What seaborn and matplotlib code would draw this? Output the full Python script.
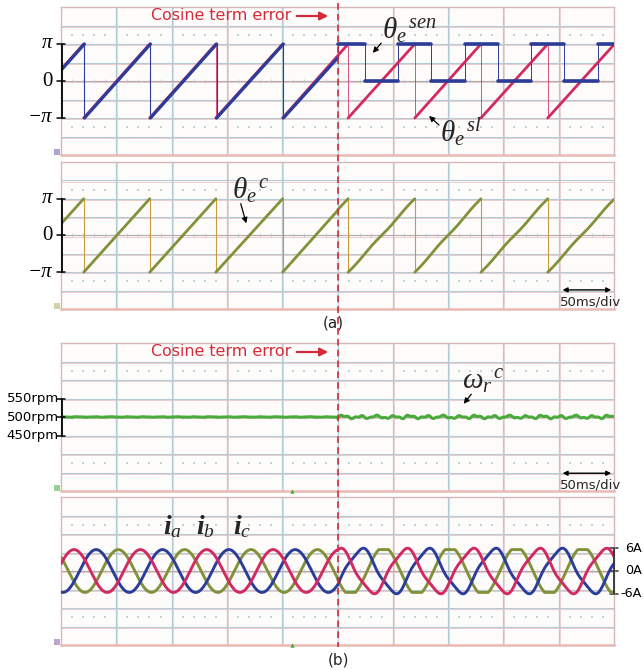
import numpy as np
import pandas as pd
import matplotlib
matplotlib.use("Agg")
import matplotlib.pyplot as plt
import matplotlib.transforms as mtransforms
from matplotlib.lines import Line2D
from matplotlib.patches import FancyArrowPatch
import seaborn as sns

sns.set_theme(style="white")
plt.rcParams['font.family'] = ['DejaVu Sans']
plt.rcParams['mathtext.fontset'] = 'custom'
plt.rcParams['mathtext.rm'] = 'Liberation Serif'
plt.rcParams['mathtext.it'] = 'Liberation Serif:italic'
plt.rcParams['mathtext.bf'] = 'Liberation Serif:italic:bold'

PI = np.pi

# ---------------- data ----------------
window_ms = [0.0, 500.0]
fault_ms = 250.0
# sawtooth resets (angle drops from +pi to -pi), ms
wrap_ms = [20.5, 80.2, 140.0, 200.4, 259.6, 319.9, 379.7, 440.1]
sen_lag_ms = 0.7
# sensed angle after the cosine-term error: edges and levels
sen_edges_ms = [250.0, 274.6, 304.6, 334.9, 364.9, 394.7, 424.7, 455.1, 485.1, 500.0]
sen_levels = [PI, 0.0, PI, 0.0, PI, 0.0, PI, 0.0, PI]
comp_ripple_rad = 0.05
angle_ticks = [-PI, 0.0, PI]
angle_tick_labels = ["\u2212\u03c0", "0", "\u03c0"]
angle_tick_styles = ["italic", "normal", "italic"]

speed_ref_rpm = 500.0
speed_ticks = [450, 500, 550]
speed_ripple_rpm = [0.5, 3.0]          # before / after the error
speed_tick_labels = ["450rpm", "500rpm", "550rpm"]

current_peak_A = 5.6
elec_period_ms = 60.0
ia_peak_ms = 11.75
phase_lag_ms = {"ia": 0.0, "ib": 20.0, "ic": 40.0}
current_ticks = [-6, 0, 6]
current_tick_labels = ["-6A", "0A", "6A"]

# ---------------- colours ----------------
C_RED = "#d12a63"
C_BLUE = "#2b3d98"
C_OLIVE = "#82913a"
C_GREEN = "#4aab3c"
C_MARK = "#d42a3a"
C_GRID_B = "#b3cbd4"
C_GRID_P = "#efcdcd"

W, H = 644, 671
fig = plt.figure(figsize=(W / 100, H / 100), dpi=100)
fig.patch.set_facecolor("white")


def rect(x0, y0, x1, y1):
    return [x0 / W, 1 - y1 / H, (x1 - x0) / W, (y1 - y0) / H]


def P(x, y):
    return x / W, 1 - y / H


def scope_axes(r, ylo, yhi):
    ax = fig.add_axes(r)
    ax.set_facecolor("#fefcfa")
    ax.set_xticks([]); ax.set_yticks([])
    for s in ax.spines.values():
        s.set_color("#d6b8b8"); s.set_linewidth(1.0)
    ax.spines["bottom"].set_color("#e9b9b5"); ax.spines["bottom"].set_linewidth(1.8)
    div_y = (yhi - ylo) / 8
    px_y = (yhi - ylo) / 148
    for i in range(1, 10):
        ax.axvline(i * 50, color=C_GRID_B, lw=0.9, zorder=0.5)
        ax.axvline(i * 50 + 0.9, color=C_GRID_P, lw=0.6, zorder=0.4)
    for j in range(1, 8):
        y = ylo + j * div_y
        ax.axhline(y, color="#b3a8ac" if j == 4 else C_GRID_B, lw=0.8, zorder=0.5)
        ax.axhline(y - px_y * 1.2, color=C_GRID_P, lw=0.7, zorder=0.4)
    minor = [k * 10 for k in range(1, 50) if k % 5]
    for j in (1.5, 6.5):
        ax.scatter(minor, [ylo + j * div_y] * len(minor), s=2.5, marker="s",
                   color="#bfd2da", linewidths=0, zorder=0.6)
    ax.scatter(minor, [ylo + 4 * div_y] * len(minor), s=6, marker="|",
               color="#b6c8d0", linewidths=0.6, zorder=0.6)
    ax.set_xlim(*window_ms)
    ax.set_ylim(ylo, yhi)
    return ax


def ramps(wraps, t0, t1, n=160):
    edges = [t0] + list(wraps) + [t1]
    rows = []
    for k in range(len(edges) - 1):
        a, b = edges[k], edges[k + 1]
        if k == 0:
            per = wraps[1] - wraps[0]
            ya, yb = PI - (b - a) / per * 2 * PI, PI
        elif k == len(edges) - 2:
            per = wraps[-1] - wraps[-2]
            ya, yb = -PI, -PI + (b - a) / per * 2 * PI
        else:
            ya, yb = -PI, PI
        tt = np.linspace(a, b, n)
        yy = np.linspace(ya, yb, n)
        rows.append(pd.DataFrame({"t": tt, "v": yy, "seg": k}))
    return pd.concat(rows, ignore_index=True)


def seg_plot(ax, df, color, lw):
    sns.lineplot(data=df, x="t", y="v", units="seg", estimator=None, sort=False,
                 color=color, lw=lw, ax=ax, legend=False, zorder=3)
    ax.set_xlabel(""); ax.set_ylabel("")


def left_scale(ax, values, labels, fs, family, styles=None, dx_text=-0.016):
    tr = mtransforms.blended_transform_factory(ax.transAxes, ax.transData)
    ax.plot([0.001, 0.001], [min(values), max(values)], color="black", lw=1.3,
            transform=tr, clip_on=False, zorder=6)
    styles = styles or ["normal"] * len(values)
    for v, lab, st in zip(values, labels, styles):
        ax.plot([-0.007, 0.008], [v, v], color="black", lw=1.1, transform=tr,
                clip_on=False, zorder=6)
        ax.text(dx_text, v, lab, transform=tr, ha="right", va="center",
                fontsize=fs, family=family, style=st, color="black")


# ---------------- (a) angles ----------------
ax1 = scope_axes(rect(61, 7, 614, 155), -2 * PI, 2 * PI)
sl = ramps(wrap_ms, *window_ms)
seg_plot(ax1, sl, C_RED, 2.0)
ax1.vlines(wrap_ms, -PI, PI, color=C_RED, lw=0.7, alpha=0.8, zorder=2)

pre_wraps = [w + sen_lag_ms for w in wrap_ms if w < fault_ms]
sen_pre = ramps(pre_wraps, window_ms[0], fault_ms)
seg_plot(ax1, sen_pre, C_BLUE, 2.3)
ax1.vlines(pre_wraps, -PI, PI, color=C_BLUE, lw=0.8, zorder=2)
sq = pd.concat([pd.DataFrame({"t": [a, b], "v": [lv, lv], "seg": i})
                for i, (a, b, lv) in enumerate(zip(sen_edges_ms[:-1], sen_edges_ms[1:], sen_levels))],
               ignore_index=True)
seg_plot(ax1, sq, C_BLUE, 2.6)
ax1.vlines(sen_edges_ms[1:-1], 0, PI, color=C_BLUE, lw=0.7, zorder=2)
ax1.vlines([fault_ms], sen_pre["v"].iloc[-1], PI, color=C_BLUE, lw=0.7, zorder=2)
ax1.set_xlim(*window_ms); ax1.set_ylim(-2 * PI, 2 * PI)
left_scale(ax1, angle_ticks, angle_tick_labels, 15, "Liberation Serif", styles=angle_tick_styles)

ax2 = scope_axes(rect(61, 162, 614, 309), -2 * PI, 2 * PI)
cc = ramps(wrap_ms, *window_ms)
cc["v"] = cc["v"] - np.where(cc["t"] >= fault_ms, comp_ripple_rad * np.sin(2 * cc["v"]), 0.0)
seg_plot(ax2, cc, C_OLIVE, 2.0)
ax2.vlines(wrap_ms, -PI, PI, color="#c79a3a", lw=0.8, zorder=2)
ax2.set_xlim(*window_ms); ax2.set_ylim(-2 * PI, 2 * PI)
left_scale(ax2, angle_ticks, angle_tick_labels, 15, "Liberation Serif", styles=angle_tick_styles)

# ---------------- (b) speed and currents ----------------
ax3 = scope_axes(rect(61, 343, 614, 491), speed_ref_rpm - 200, speed_ref_rpm + 200)
t = np.arange(0, 500.25, 0.25)
e = 2 * PI * (t - ia_peak_ms) / elec_period_ms
amp = np.where(t >= fault_ms, speed_ripple_rpm[1], speed_ripple_rpm[0])
spd = speed_ref_rpm + amp * (np.sin(4 * e) + 0.6 * np.sin(9 * e + 0.7) + 0.5 * np.sin(2 * e + 1.3) ** 9)
sdf = pd.DataFrame({"t": t, "v": spd, "seg": 0})
seg_plot(ax3, sdf, C_GREEN, 2.2)
ax3.set_xlim(*window_ms); ax3.set_ylim(speed_ref_rpm - 200, speed_ref_rpm + 200)
left_scale(ax3, speed_ticks, speed_tick_labels, 9.5, "DejaVu Sans", dx_text=-0.004)

IMAX = 6 * 4 / 1.24
ax4 = scope_axes(rect(61, 497, 614, 645), -IMAX, IMAX)
rows = []
for name, lag in phase_lag_ms.items():
    ph = 2 * PI * (t - ia_peak_ms - lag) / elec_period_ms
    base = np.cos(ph)
    if name == "ic":
        dist = np.clip(1.12 * np.cos(ph), -1, 1)
    else:
        dist = np.cos(ph) + 0.1 * np.sin(3 * ph + 0.4)
    i = current_peak_A * np.where(t >= fault_ms, dist, base)
    rows.append(pd.DataFrame({"t": t, "i": i, "phase": name}))
cdf = pd.concat(rows, ignore_index=True)
sns.lineplot(data=cdf, x="t", y="i", hue="phase", hue_order=["ic", "ib", "ia"],
             palette={"ia": C_RED, "ib": C_BLUE, "ic": C_OLIVE}, estimator=None,
             sort=False, lw=2.1, ax=ax4, legend=False, zorder=3)
ax4.set_xlabel(""); ax4.set_ylabel("")
ax4.set_xlim(*window_ms); ax4.set_ylim(-IMAX, IMAX)
tr4 = mtransforms.blended_transform_factory(ax4.transAxes, ax4.transData)
ax4.plot([1.0, 1.0], [-6, 6], color="#333333", lw=1.3, transform=tr4, clip_on=False, zorder=6)
for v, lab in zip(current_ticks, current_tick_labels):
    ax4.plot([0.992, 1.008], [v, v], color="#333333", lw=1.1, transform=tr4, clip_on=False)
    ax4.text(1.021 if v >= 0 else 1.011, v, lab, transform=tr4, ha="left", va="center",
             fontsize=9.2, color="black")

# channel markers and trigger marks
for ax, col in ((ax1, "#6a5aa8"), (ax2, "#a8b060"), (ax3, C_GREEN), (ax4, "#8a5aa8")):
    ax.scatter([-0.008], [0.02], transform=ax.transAxes, s=14, marker="s",
               color=col, alpha=0.55, clip_on=False, zorder=6, linewidths=0)
for ax in (ax3, ax4):
    ax.scatter([208.6], [0.0], transform=mtransforms.blended_transform_factory(ax.transData, ax.transAxes),
               s=10, marker="^", color=C_GREEN, clip_on=False, zorder=6, linewidths=0)

# fault instant across the whole figure
trf = mtransforms.blended_transform_factory(ax1.transData, fig.transFigure)
fig.add_artist(Line2D([fault_ms, fault_ms], [1 - 3 / H, 1 - 647 / H], transform=trf,
                      color=C_MARK, lw=1.2, dashes=(4, 2.5), zorder=10))

# ---------------- annotations ----------------
for y in (16, 352):
    fig.text(*P(221, y), "Cosine term error", color=C_MARK, fontsize=11.4,
             ha="center", va="center")
    fig.add_artist(FancyArrowPatch(
        P(294, y), P(331, y), transform=fig.transFigure, arrowstyle="-|>",
        mutation_scale=12, color=C_MARK, lw=1.6))


def pointer(x0, y0, x1, y1):
    fig.add_artist(FancyArrowPatch(
        P(x0, y0), P(x1, y1), transform=fig.transFigure, arrowstyle="-|>",
        mutation_scale=8, color="black", lw=0.9))


fig.text(*P(382, 30), r"$\theta_{e}{}^{\,sen}$", fontsize=21, ha="left", va="center")
pointer(383, 41, 371, 55)
fig.text(*P(440, 132), r"$\theta_{e}{}^{\,sl}$", fontsize=21, ha="left", va="center")
pointer(441, 127, 427, 114)
fig.text(*P(232, 190), r"$\theta_{e}{}^{\,c}$", fontsize=21, ha="left", va="center")
pointer(240, 201, 247, 226)
fig.text(*P(462, 382), r"$\omega_{r}{}^{\,c}$", fontsize=21, ha="left", va="center")
pointer(473, 392, 462, 406)

for x, s in ((163, "a"), (196, "b"), (233, "c")):
    fig.text(*P(x, 526), r"$\mathbf{i}_{%s}$" % s, fontsize=20, ha="left", va="center")

# time-base markers
for ax, yarr, ytxt in ((ax2, 0.13, 0.045), (ax3, 0.12, 0.04)):
    btr = mtransforms.blended_transform_factory(ax.transData, ax.transAxes)
    ax.annotate("", xy=(500, yarr), xytext=(451, yarr), xycoords=btr, textcoords=btr,
                arrowprops=dict(arrowstyle="<|-|>", color="black", lw=1.0, mutation_scale=7))
    ax.text(451, ytxt, "50ms/div", transform=btr,
            fontsize=9.5, ha="left", va="center", clip_on=False, zorder=7)

fig.text(*P(333, 323), "(a)", fontsize=11, ha="center", va="center")
fig.text(*P(338, 660), "(b)", fontsize=11, ha="center", va="center")

fig.savefig("out.png", dpi=100, facecolor="white")
